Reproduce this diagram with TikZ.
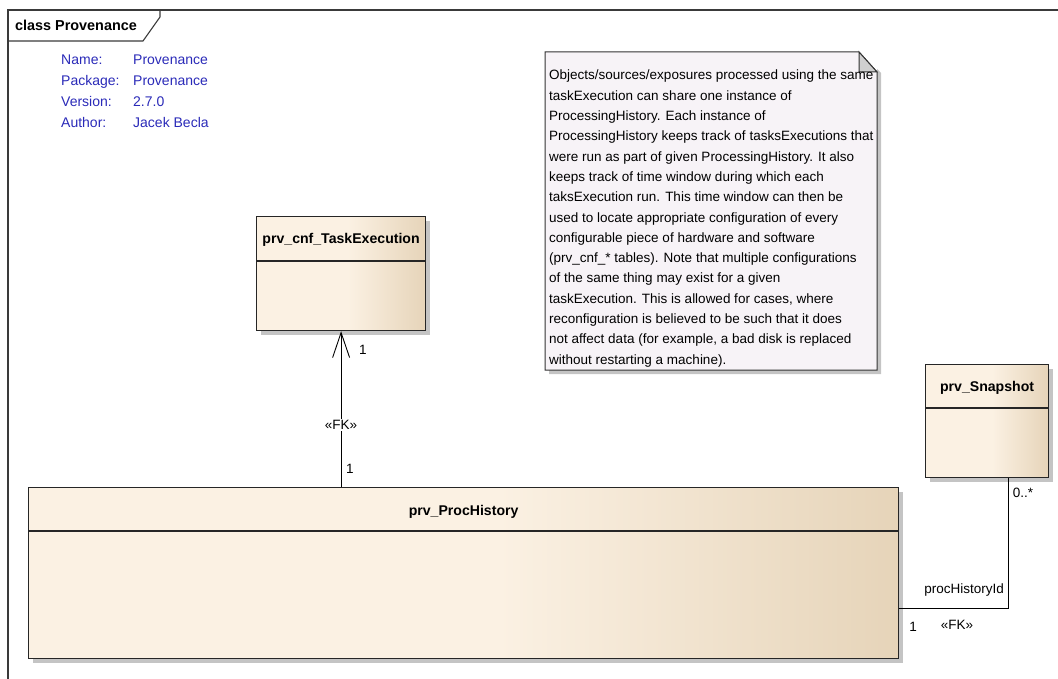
\documentclass[tikz,border=0pt]{standalone}
\usepackage{fontspec}
\setmainfont{Liberation Sans}
\usetikzlibrary{arrows.meta,positioning,calc,shadows}

\definecolor{classlight}{HTML}{FBF1E3}
\definecolor{classdark}{HTML}{E6D4B9}
\definecolor{notefill}{HTML}{F7F3F7}
\definecolor{foldgrey}{HTML}{CFCFCF}
\definecolor{shadowgrey}{HTML}{C4C4C4}
\definecolor{metablue}{HTML}{2A2AB8}
\definecolor{framegrey}{HTML}{3A3A3A}

\pgfdeclarehorizontalshading{classshade}{100bp}{color(0bp)=(classlight); color(25bp)=(classlight); color(52bp)=(classlight); color(75bp)=(classdark); color(100bp)=(classdark)}

\tikzset{
  classbox/.style={draw=black!85, line width=1.2pt, shade, shading=classshade,
    anchor=north west, inner sep=0pt,
    drop shadow={shadow xshift=4pt, shadow yshift=-4pt, fill=shadowgrey, opacity=1}},
  classtitle/.style={font=\bfseries\fontsize{14.1}{17}\selectfont, inner sep=0pt},
  classline/.style={draw=black!85, line width=1.2pt},
  fkline/.style={draw=black, line width=0.9pt},
  rolelabel/.style={font=\fontsize{13.5}{16}\selectfont, inner sep=1pt},
  meta/.style={font=\fontsize{14}{17}\selectfont, text=metablue, anchor=base west, inner sep=0pt},
}

\begin{document}
\begin{tikzpicture}[x=1pt,y=-1pt]
\useasboundingbox (0,0) rectangle (1058,679);

% diagram frame and tab
\draw[framegrey, line width=1.1pt] (8,679) -- (8,10) -- (1058,10);
\draw[framegrey, line width=1.1pt] (8,41) -- (143,41) -- (160,17) -- (160,10);
\node[font=\bfseries\fontsize{14.4}{17}\selectfont, anchor=west, inner sep=0pt] (frametitle) at (15,25) {class Provenance};

% model info
\node[meta] (namekey) at (61,65) {Name:};
\node[meta] (nameval) at (133,65) {Provenance};
\node[meta] (pkgkey) at (61,86) {Package:};
\node[meta] (pkgval) at (133,86) {Provenance};
\node[meta] (verkey) at (61,107) {Version:};
\node[meta] (verval) at (133,107) {2.7.0};
\node[meta] (authkey) at (61,128) {Author:};
\node[meta] (authval) at (133,128) {Jacek Becla};

% note
\fill[shadowgrey] (881,73) -- (881,374) -- (549,374) -- (549,370) -- (877,370) -- (877,69) -- cycle;
\draw[fill=notefill, line width=1pt, draw=black!80] (545,52) -- (859,52) -- (877,72) -- (877,370) -- (545,370) -- cycle;
\draw[fill=foldgrey, line width=1pt, draw=black!80] (859,52) -- (859,72) -- (877,72) -- cycle;
\node[anchor=north west, align=left, inner sep=0pt, font=\fontsize{13.5}{20.3}\selectfont] (note) at (549,70) {%
Objects/sources/exposures processed using the same\\
taskExecution can share one instance of\\
ProcessingHistory. Each instance of\\
ProcessingHistory keeps track of tasksExecutions that\\
were run as part of given ProcessingHistory. It also\\
keeps track of time window during which each\\
taksExecution run. This time window can then be\\
used to locate appropriate configuration of every\\
configurable piece of hardware and software\\
(prv\_cnf\_* tables). Note that multiple configurations\\
of the same thing may exist for a given\\
taskExecution. This is allowed for cases, where\\
reconfiguration is believed to be such that it does\\
not affect data (for example, a bad disk is replaced\\
without restarting a machine).};

% classes
\node[classbox, minimum width=169pt, minimum height=114pt] (taskexec) at (256,216) {};
\node[classtitle] at ($(taskexec.north)+(0,24)$) {prv\_cnf\_TaskExecution};
\draw[classline] ($(taskexec.north west)+(0,45)$) -- ($(taskexec.north east)+(0,45)$);

\node[classbox, minimum width=870pt, minimum height=171pt] (prochist) at (28,487) {};
\node[classtitle] at ($(prochist.north)+(0,25)$) {prv\_ProcHistory};
\draw[classline] ($(prochist.north west)+(0,44)$) -- ($(prochist.north east)+(0,44)$);

\node[classbox, minimum width=123pt, minimum height=113pt] (snapshot) at (925,364) {};
\node[classtitle] at ($(snapshot.north)+(0,24)$) {prv\_Snapshot};
\draw[classline] ($(snapshot.north west)+(0,44)$) -- ($(snapshot.north east)+(0,44)$);

% prv_ProcHistory -> prv_cnf_TaskExecution
\draw[fkline, -{Straight Barb[length=25pt, width=17pt, line width=0.9pt]}]
  (taskexec.south |- prochist.north) -- (taskexec.south);
\node[rolelabel] at (363,350) {1};
\node[rolelabel, fill=white] at (341,425) {«FK»};
\node[rolelabel] at (350,469) {1};

% prv_Snapshot -> prv_ProcHistory
\coordinate (fkbend) at (1008,608);
\draw[fkline] (snapshot.south -| fkbend) -- (fkbend) -- (fkbend -| prochist.east);
\node[rolelabel] at (1023,493) {0..*};
\node[rolelabel, anchor=east] at (1005,590) {procHistoryId};
\node[rolelabel] at (913,627) {1};
\node[rolelabel] at (957,625) {«FK»};
\end{tikzpicture}
\end{document}
